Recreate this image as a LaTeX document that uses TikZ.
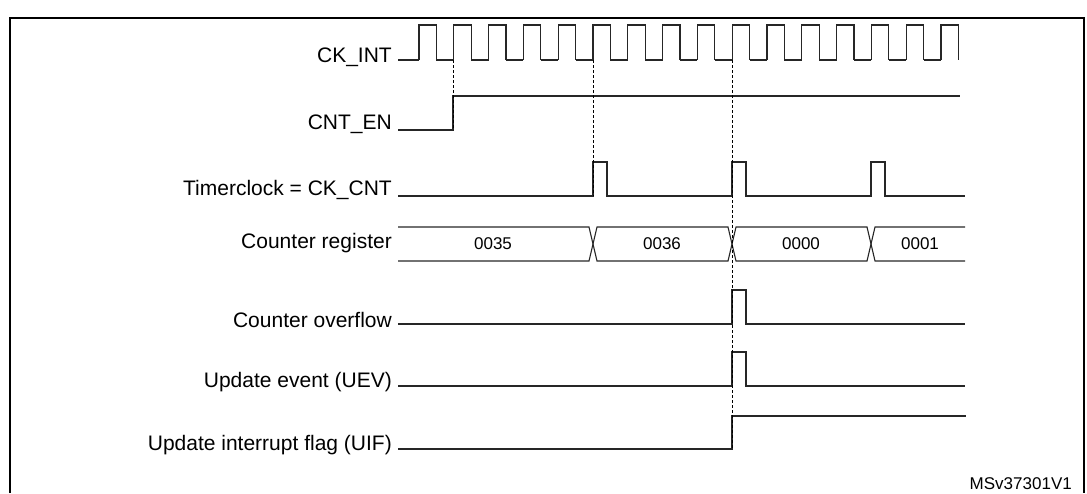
\documentclass[tikz,border=0pt]{standalone}
\usepackage{fontspec}
\setmainfont{Liberation Sans}
\usetikzlibrary{positioning}

\tikzset{
	sig/.style={line width=1.1pt, color=black!85},
	tick/.style={line width=0.8pt, dashed, dash pattern=on 3pt off 2pt},
	lbl/.style={anchor=east, inner sep=0pt, font=\fontsize{21}{24}\selectfont},
	val/.style={inner sep=0pt, font=\fontsize{17}{20}\selectfont}
}

\begin{document}
\begin{tikzpicture}[x=1pt, y=-1pt]
	\useasboundingbox (0, 0) rectangle (1087, 493);
	\draw[line width=1.2pt] (10, 493) -- (10, 18) -- (1084, 18) -- (1084, 493); % Рамка
	
	% Подписи сигналов
	\node[lbl] (ckint) at (392, 57) {CK\_INT};
	\node[lbl] (cnten) at (392, 124) {CNT\_EN};
	\node[lbl] (tclk) at (392, 190) {Timerclock = CK\_CNT};
	\node[lbl] (creg) at (392, 243) {Counter register};
	\node[lbl] (ovf) at (392, 320) {Counter overflow};
	\node[lbl] (uev) at (392, 382) {Update event (UEV)};
	\node[lbl] (uif) at (392, 445) {Update interrupt flag (UIF)};
	
	% CK_INT
	\draw[sig] (398, 60) -- (419, 60);
	\foreach \i in {0,...,15} {
		\pgfmathsetmacro{\xa}{419+34.8*\i}
		\pgfmathsetmacro{\xb}{\xa+17.4}
		\pgfmathsetmacro{\xc}{\xa+34.8}
		\draw[sig] (\xa, 60) -- (\xa, 25) -- (\xb, 25) -- (\xb, 60);
		\ifnum\i<15 \draw[sig] (\xb, 60) -- (\xc, 60); \fi
	}
	
	% CNT_EN
	\draw[sig] (398, 130) -- (453, 130) -- (453, 96) -- (960, 96);
	
	% Timerclock
	\draw[sig] (398, 196) -- (593, 196) -- (593, 162) -- (607, 162) -- (607, 196)
		-- (732, 196) -- (732, 162) -- (746, 162) -- (746, 196)
		-- (871, 196) -- (871, 162) -- (885, 162) -- (885, 196) -- (965, 196);
	
	% Counter register
	\draw[sig] (398, 227) -- (589, 227) -- (597, 261) -- (728, 261) -- (736, 227)
		-- (867, 227) -- (875, 261) -- (965, 261);
	\draw[sig] (398, 261) -- (589, 261) -- (597, 227) -- (728, 227) -- (736, 261)
		-- (867, 261) -- (875, 227) -- (965, 227);
	\node[val] (v35) at (493, 244) {0035};
	\node[val] (v36) at (662, 244) {0036};
	\node[val] (v00) at (801, 244) {0000};
	\node[val] (v01) at (920, 244) {0001};
	
	% Counter overflow, UEV, UIF
	\draw[sig] (398, 324) -- (732, 324) -- (732, 290) -- (746, 290) -- (746, 324) -- (965, 324);
	\draw[sig] (398, 386) -- (732, 386) -- (732, 352) -- (746, 352) -- (746, 386) -- (965, 386);
	\draw[sig] (398, 449) -- (732, 449) -- (732, 416) -- (966, 416);
	
	% Пунктирные линии
	\draw[tick] (453, 60) -- (453, 130);
	\draw[tick] (593, 60) -- (593, 196);
	\draw[tick] (732, 60) -- (732, 449);
	
	\node[val, anchor=south east] (ref) at (1072, 490) {MSv37301V1};
\end{tikzpicture}
\end{document}
